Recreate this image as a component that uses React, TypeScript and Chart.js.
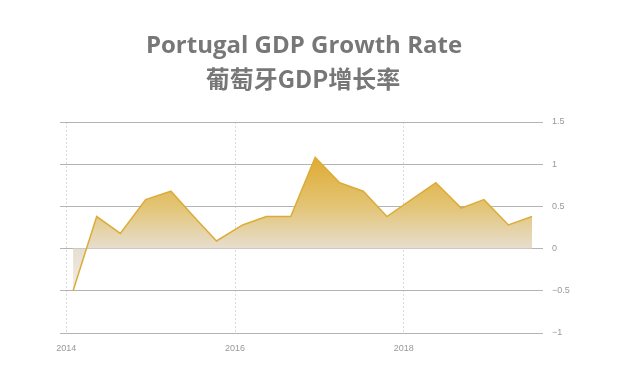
import React, { useEffect, useRef } from "react";
import { Chart, registerables } from "chart.js";

Chart.register(...registerables);

const titleText = "Portugal GDP Growth Rate";
const subtitleText = "葡萄牙GDP增长率";

// decimal-year position of each quarterly reading
const periods = [
  2014.08, 2014.36, 2014.64, 2014.94, 2015.24, 2015.51, 2015.78, 2016.09,
  2016.37, 2016.66, 2016.95, 2017.24, 2017.52, 2017.8, 2018.09, 2018.38,
  2018.68, 2018.95, 2019.24, 2019.52,
];
const growth = [
  -0.5, 0.38, 0.18, 0.58, 0.68, 0.38, 0.09, 0.28, 0.38, 0.38, 1.08, 0.78,
  0.68, 0.38, 0.58, 0.78, 0.48, 0.58, 0.28, 0.38,
];
const yearTicks = [2014, 2016, 2018];
const yTicks = [-1, -0.5, 0, 0.5, 1, 1.5];

const titlePlugin = {
  id: "twoLineTitle",
  afterDraw(chart: any) {
    const ctx = chart.ctx;
    ctx.save();
    ctx.fillStyle = "#777777";
    ctx.textAlign = "center";
    ctx.textBaseline = "middle";
    ctx.font = 'bold 24px "Open Sans", "Noto Sans CJK SC", sans-serif';
    ctx.fillText(titleText, 304, 46);
    ctx.font = 'bold 24px "Noto Sans CJK SC", "Open Sans", sans-serif';
    ctx.fillText(subtitleText, 303, 79);
    ctx.restore();
  },
};

export default function App() {
  const ref = useRef<HTMLCanvasElement>(null);

  useEffect(() => {
    if (!ref.current) return;
    const chart = new Chart(ref.current, {
      type: "line",
      data: {
        datasets: [
          {
            data: periods.map((p, i) => ({ x: p, y: growth[i] })),
            borderColor: "#dcac38",
            borderWidth: 1.5,
            pointRadius: 0,
            tension: 0,
            fill: "origin",
            backgroundColor: (c: any) => {
              const { chart } = c;
              const area = chart.chartArea;
              if (!area) return "#e8d9b0";
              const ys = chart.scales.y;
              const g = chart.ctx.createLinearGradient(0, ys.getPixelForValue(1.15), 0, ys.getPixelForValue(-0.6));
              g.addColorStop(0, "#dfa82a");
              g.addColorStop(0.38, "#e3c577");
              g.addColorStop(0.66, "#e7ded0");
              g.addColorStop(1, "#f2efeb");
              return g;
            },
          },
        ],
      },
      options: {
        animation: false,
        responsive: true,
        maintainAspectRatio: false,
        layout: { padding: { left: 60, top: 122, right: 0, bottom: 0 } },
        plugins: {
          legend: { display: false },
          title: { display: false },
          tooltip: { enabled: false },
        },
        scales: {
          x: {
            type: "linear",
            min: 2013.925,
            max: 2019.65,
            afterBuildTicks: (s: any) => {
              s.ticks = yearTicks.map((v) => ({ value: v }));
            },
            afterFit: (s: any) => {
              s.height = 44;
            },
            ticks: {
              color: "#999999",
              font: { family: "Arial, 'Liberation Sans', sans-serif", size: 9 },
              padding: 10,
              maxRotation: 0,
              callback: (v: any) => String(v),
            },
            grid: {
              color: "#dadada",
              lineWidth: 1,
              drawTicks: false,
            },
            border: { display: false, dash: [2, 2] },
          },
          y: {
            position: "right",
            min: -1,
            max: 1.5,
            afterBuildTicks: (s: any) => {
              s.ticks = yTicks.map((v) => ({ value: v }));
            },
            afterFit: (s: any) => {
              s.width = 78;
            },
            ticks: {
              color: "#999999",
              font: { family: "Arial, 'Liberation Sans', sans-serif", size: 9 },
              padding: 9,
              callback: (v: any) => String(v).replace("-", "\u2212"),
            },
            grid: {
              color: "#b4b4b4",
              lineWidth: 1,
              drawTicks: false,
            },
            border: { display: false },
          },
        },
      },
      plugins: [titlePlugin],
    });
    return () => chart.destroy();
  }, []);

  return (
    <div style={{ position: "fixed", left: 0, top: 0, width: 621, height: 377, background: "#fff" }}>
      <canvas ref={ref} />
    </div>
  );
}
